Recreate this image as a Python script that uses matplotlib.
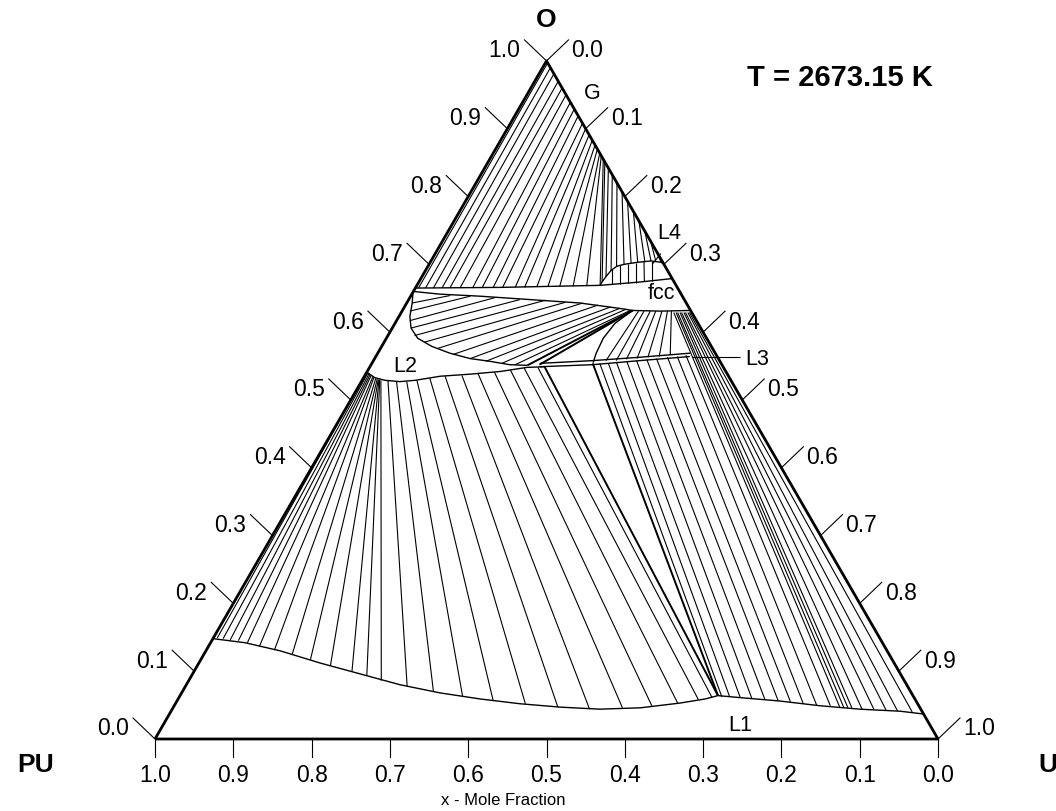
import numpy as np
import matplotlib.pyplot as plt
from matplotlib.collections import LineCollection

plt.rcParams['font.family'] = ['Liberation Sans', 'DejaVu Sans']

# every point is (x_U, x_O); x_PU = 1 - x_U - x_O
# tie lines: [x_U_a, x_O_a, x_U_b, x_O_b]

gas_fcc = [
    [0.004, 0.665, 0.003, 0.997], [0.013, 0.665, 0.010, 0.990],
    [0.023, 0.665, 0.019, 0.981], [0.034, 0.665, 0.030, 0.970],
    [0.044, 0.665, 0.040, 0.960], [0.057, 0.665, 0.050, 0.950],
    [0.073, 0.665, 0.061, 0.939], [0.085, 0.666, 0.071, 0.929],
    [0.099, 0.666, 0.081, 0.919], [0.111, 0.666, 0.092, 0.908],
    [0.127, 0.666, 0.100, 0.900], [0.139, 0.666, 0.109, 0.891],
    [0.154, 0.668, 0.117, 0.883], [0.168, 0.668, 0.124, 0.876],
    [0.183, 0.668, 0.130, 0.870], [0.200, 0.668, 0.136, 0.864],
    [0.217, 0.669, 0.140, 0.860], [0.234, 0.669, 0.145, 0.855],
]

gas_l4 = [
    [0.149, 0.851, 0.234, 0.674], [0.158, 0.842, 0.235, 0.682],
    [0.168, 0.832, 0.237, 0.691], [0.180, 0.820, 0.241, 0.697],
    [0.193, 0.807, 0.249, 0.700], [0.207, 0.793, 0.257, 0.702],
    [0.222, 0.778, 0.265, 0.703], [0.236, 0.764, 0.273, 0.705],
    [0.251, 0.749, 0.281, 0.705], [0.266, 0.734, 0.287, 0.705],
    [0.279, 0.721, 0.295, 0.703],
]

l4_fcc = [
    [0.237, 0.693, 0.248, 0.671], [0.245, 0.699, 0.259, 0.671],
    [0.254, 0.700, 0.268, 0.672], [0.263, 0.702, 0.278, 0.672],
    [0.272, 0.705, 0.288, 0.674], [0.282, 0.705, 0.297, 0.675],
]

l2_fcc = [
    [0.007, 0.643, 0.050, 0.654], [0.010, 0.631, 0.076, 0.653],
    [0.017, 0.617, 0.109, 0.651], [0.024, 0.606, 0.142, 0.648],
    [0.034, 0.595, 0.175, 0.647], [0.051, 0.585, 0.202, 0.644],
    [0.073, 0.576, 0.225, 0.643], [0.097, 0.567, 0.246, 0.640],
    [0.122, 0.561, 0.263, 0.637], [0.144, 0.557, 0.276, 0.635],
    [0.166, 0.554, 0.285, 0.634], [0.184, 0.552, 0.291, 0.632],
]

fcc_l3 = [
    [0.302, 0.631, 0.297, 0.558], [0.309, 0.631, 0.310, 0.558],
    [0.317, 0.631, 0.322, 0.560], [0.324, 0.631, 0.335, 0.561],
    [0.332, 0.631, 0.348, 0.563], [0.339, 0.631, 0.362, 0.564],
    [0.344, 0.631, 0.375, 0.566],
]

l2_l1 = [
    [0.000, 0.541, 0.005, 0.149], [0.002, 0.539, 0.013, 0.148],
    [0.004, 0.539, 0.023, 0.146], [0.006, 0.538, 0.034, 0.145],
    [0.008, 0.536, 0.047, 0.142], [0.011, 0.535, 0.065, 0.137],
    [0.013, 0.533, 0.087, 0.131], [0.016, 0.532, 0.113, 0.124],
    [0.018, 0.532, 0.140, 0.117], [0.020, 0.530, 0.170, 0.108],
    [0.021, 0.530, 0.202, 0.099], [0.022, 0.530, 0.224, 0.093],
    [0.024, 0.529, 0.246, 0.086], [0.033, 0.529, 0.283, 0.078],
    [0.045, 0.527, 0.320, 0.071], [0.058, 0.527, 0.362, 0.062],
    [0.070, 0.529, 0.404, 0.056], [0.085, 0.532, 0.447, 0.052],
    [0.103, 0.535, 0.491, 0.047], [0.124, 0.536, 0.533, 0.044],
    [0.143, 0.539, 0.574, 0.046], [0.163, 0.541, 0.610, 0.049],
    [0.182, 0.544, 0.641, 0.053], [0.198, 0.547, 0.665, 0.058],
    [0.215, 0.548, 0.681, 0.061],
]

l3_l1 = [
    [0.291, 0.554, 0.693, 0.062], [0.302, 0.554, 0.703, 0.062],
    [0.312, 0.555, 0.717, 0.061], [0.324, 0.557, 0.733, 0.059],
    [0.336, 0.558, 0.750, 0.058], [0.348, 0.560, 0.768, 0.056],
    [0.360, 0.561, 0.784, 0.055], [0.373, 0.563, 0.802, 0.052],
    [0.385, 0.564, 0.820, 0.050], [0.395, 0.566, 0.838, 0.049],
]

fcc_l1 = [
    [0.348, 0.629, 0.851, 0.047], [0.351, 0.629, 0.856, 0.047],
    [0.353, 0.629, 0.862, 0.046], [0.356, 0.629, 0.867, 0.046],
    [0.358, 0.629, 0.881, 0.044], [0.361, 0.629, 0.896, 0.044],
    [0.363, 0.629, 0.912, 0.043], [0.366, 0.629, 0.928, 0.041],
    [0.368, 0.629, 0.947, 0.040],
]

# three-phase triangle edges
tri_edges = [
    [0.223, 0.549, 0.687, 0.064], [0.282, 0.554, 0.687, 0.064],
    [0.200, 0.551, 0.294, 0.632], [0.215, 0.552, 0.294, 0.632],
]

# phase boundaries
fcc_upper = [[0.000, 0.665], [0.108, 0.666], [0.234, 0.669], [0.283, 0.674], [0.321, 0.679]]
fcc_lower = [[0.000, 0.660], [0.036, 0.656], [0.089, 0.653], [0.155, 0.648], [0.221, 0.643],
             [0.276, 0.635], [0.294, 0.632], [0.330, 0.631], [0.368, 0.632]]
l4_line = [[0.234, 0.669], [0.234, 0.674], [0.235, 0.682], [0.237, 0.691], [0.241, 0.697],
           [0.249, 0.700], [0.265, 0.703], [0.281, 0.705], [0.295, 0.703], [0.300, 0.700]]
l2_lens = [[0.000, 0.659], [0.007, 0.643], [0.014, 0.623], [0.024, 0.606], [0.040, 0.591],
           [0.064, 0.579], [0.092, 0.569], [0.122, 0.561], [0.149, 0.557], [0.177, 0.552],
           [0.200, 0.551]]
l2_lower = [[0.000, 0.541], [0.014, 0.533], [0.029, 0.529], [0.049, 0.527], [0.068, 0.529],
            [0.097, 0.535], [0.133, 0.538], [0.170, 0.542], [0.201, 0.548], [0.223, 0.549]]
l3_curve = [[0.294, 0.632], [0.281, 0.613], [0.277, 0.591], [0.279, 0.569], [0.282, 0.555]]
l3_upper = [[0.215, 0.554], [0.280, 0.558], [0.338, 0.563], [0.399, 0.569]]
l3_lower = [[0.217, 0.549], [0.283, 0.552], [0.340, 0.558], [0.401, 0.564]]
l1_line = [[0.000, 0.148], [0.044, 0.142], [0.095, 0.130], [0.155, 0.112], [0.214, 0.096],
           [0.273, 0.080], [0.330, 0.068], [0.386, 0.059], [0.440, 0.052], [0.494, 0.047],
           [0.546, 0.044], [0.597, 0.046], [0.644, 0.053], [0.673, 0.059], [0.687, 0.064],
           [0.717, 0.061], [0.770, 0.056], [0.825, 0.049], [0.878, 0.044], [0.931, 0.041],
           [0.962, 0.037]]

phase_labels = {'G': (0.082, 0.953), 'L4': (0.283, 0.747), 'fcc': (0.317, 0.659),
                'L3': (0.488, 0.561), 'L2': (0.044, 0.551), 'L1': (0.737, 0.022)}
tick_values = [0.0, 0.1, 0.2, 0.3, 0.4, 0.5, 0.6, 0.7, 0.8, 0.9, 1.0]

S3 = np.sqrt(3) / 2
PX = 1 / 783  # one pixel in data units


def tern(xu, xo):
    xu = np.asarray(xu, dtype=float)
    xo = np.asarray(xo, dtype=float)
    return xu + xo / 2, xo * S3


def draw_ties(rows, lw=0.8):
    r = np.asarray(rows)
    xa, ya = tern(r[:, 0], r[:, 1])
    xb, yb = tern(r[:, 2], r[:, 3])
    segs = np.stack([np.column_stack([xa, ya]), np.column_stack([xb, yb])], axis=1)
    ax.add_collection(LineCollection(segs, colors='black', linewidths=lw))


def draw_curve(pts, lw=1.0):
    p = np.asarray(pts)
    ax.plot(*tern(p[:, 0], p[:, 1]), color='black', lw=lw, solid_capstyle='butt')


fig = plt.figure(figsize=(10.56, 8.12), dpi=100)
ax = fig.add_axes([0, 0, 1, 1])
ax.set_xlim(-155 * PX, 901 * PX)
ax.set_ylim(-72 * PX, 740 * PX)
ax.axis('off')

for group in [gas_fcc, gas_l4, l4_fcc, l2_fcc, fcc_l3, l2_l1, l3_l1, fcc_l1]:
    draw_ties(group)
draw_ties(tri_edges, lw=1.4)

for curve in [fcc_upper, fcc_lower, l4_line, l2_lens, l2_lower, l3_curve, l3_upper, l3_lower, l1_line]:
    draw_curve(curve)

# triangle frame
draw_curve([[0, 0], [1, 0], [0, 1], [0, 0]], lw=2.0)

fs = 16.5
for v in tick_values:
    # bottom axis (x_PU)
    ax.plot([v, v], [0, -18 * PX], color='black', lw=0.8)
    ax.text(v, -36 * PX, f"{1 - v:.1f}", ha='center', va='center', fontsize=fs)
    # left axis (x_O)
    x0, y0 = tern(0, v)
    ax.plot([x0, x0 - 22 * PX], [y0, y0 + 21 * PX], color='black', lw=0.8)
    ax.text(x0 - 26 * PX, y0 + 11 * PX, f"{v:.1f}", ha='right', va='center', fontsize=fs)
    # right axis (x_U)
    x1, y1 = tern(v, 1 - v)
    ax.plot([x1, x1 + 22 * PX], [y1, y1 + 21 * PX], color='black', lw=0.8)
    ax.text(x1 + 25 * PX, y1 + 11 * PX, f"{v:.1f}", ha='left', va='center', fontsize=fs)

for name, (xu, xo) in phase_labels.items():
    x, y = tern(xu, xo)
    ax.text(x, y, name, ha='center', va='center', fontsize=15.5)

# leader lines for L4 and L3
draw_curve([[0.285, 0.700], [0.288, 0.716]], lw=0.8)
draw_curve([[0.404, 0.564], [0.465, 0.564]], lw=0.8)

ax.text(0.5, 720 * PX, 'O', ha='center', va='center', fontsize=19, fontweight='bold')
ax.text(-119 * PX, -25 * PX, 'PU', ha='center', va='center', fontsize=19, fontweight='bold')
ax.text(893 * PX, -25 * PX, 'U', ha='center', va='center', fontsize=19, fontweight='bold')
ax.text(685 * PX, 662 * PX, 'T = 2673.15 K', ha='center', va='center', fontsize=21, fontweight='bold')
ax.text(348 * PX, -61 * PX, 'x - Mole Fraction', ha='center', va='center', fontsize=12)

fig.savefig('out.png', dpi=100)
